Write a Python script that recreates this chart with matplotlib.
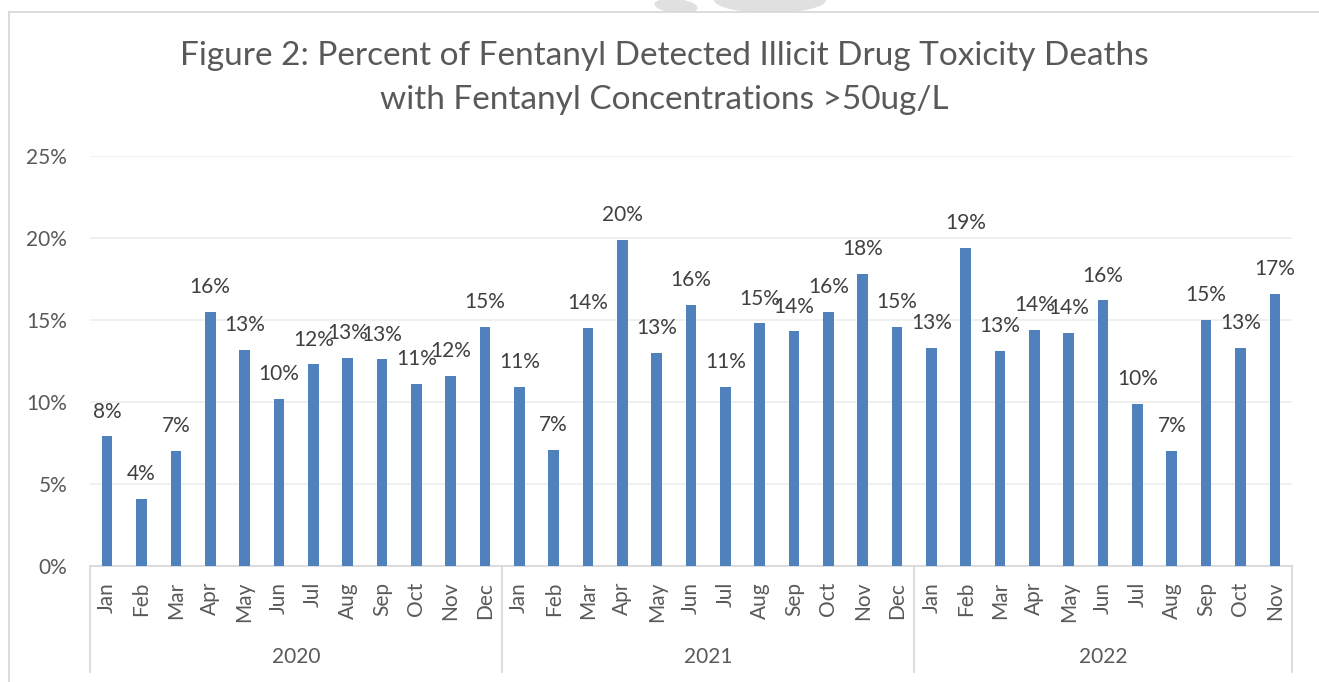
import matplotlib
matplotlib.use("Agg")
import matplotlib.pyplot as plt
from matplotlib.lines import Line2D
from matplotlib.patches import Ellipse, Rectangle
from matplotlib.ticker import FuncFormatter
import matplotlib.transforms as mtransforms

plt.rcParams["font.family"] = ["Lato", "DejaVu Sans"]

months_2020 = ["Jan", "Feb", "Mar", "Apr", "May", "Jun", "Jul", "Aug", "Sep", "Oct", "Nov", "Dec"]
months_2021 = ["Jan", "Feb", "Mar", "Apr", "May", "Jun", "Jul", "Aug", "Sep", "Oct", "Nov", "Dec"]
months_2022 = ["Jan", "Feb", "Mar", "Apr", "May", "Jun", "Jul", "Aug", "Sep", "Oct", "Nov"]
years = ["2020", "2021", "2022"]

pct_2020 = [7.9, 4.1, 7.0, 15.5, 13.2, 10.2, 12.3, 12.7, 12.6, 11.1, 11.6, 14.6]
pct_2021 = [10.9, 7.1, 14.5, 19.9, 13.0, 15.9, 10.9, 14.8, 14.3, 15.5, 17.8, 14.6]
pct_2022 = [13.3, 19.4, 13.1, 14.4, 14.2, 16.2, 9.9, 7.0, 15.0, 13.3, 16.6]

groups = [months_2020, months_2021, months_2022]
months = months_2020 + months_2021 + months_2022
values = [v / 100 for v in pct_2020 + pct_2021 + pct_2022]

W, H = 1319, 682
BAR = "#4F81BD"
TXT = "#595959"
LBL = "#404040"
LINE = "#D9D9D9"


def fy(py):
    return 1 - py / H


fig = plt.figure(figsize=(W / 100, H / 100), dpi=100)

# faint watermark shapes above the chart border
clip_box = Rectangle((0, fy(11.5)), 1, 1, transform=fig.transFigure, visible=False)
fig.add_artist(clip_box)
for cx, cy, ew, eh, ang in [(676, 6, 44, 14, -15), (770, 0, 112, 26, 0)]:
    e = Ellipse((cx / W, fy(cy)), ew / W, eh / H, angle=ang, transform=fig.transFigure,
                facecolor="#E0E0E0", edgecolor="none")
    fig.add_artist(e)
    e.set_clip_path(clip_box)

# chart border (top and left visible)
fig.add_artist(Line2D([9 / W, 1], [fy(11.5), fy(11.5)], color=LINE, lw=1.3, transform=fig.transFigure))
fig.add_artist(Line2D([9 / W, 9 / W], [0, fy(11.5)], color=LINE, lw=1.3, transform=fig.transFigure))

fig.text(664 / W, fy(56), "Figure 2: Percent of Fentanyl Detected Illicit Drug Toxicity Deaths",
         ha="center", va="center", fontsize=24, color=TXT)
fig.text(664 / W, fy(100), "with Fentanyl Concentrations >50ug/L",
         ha="center", va="center", fontsize=24, color=TXT)

ax = fig.add_axes([90 / W, fy(566), (1292 - 90) / W, (566 - 156) / H])
x = list(range(len(values)))
ax.bar(x, values, width=0.31, color=BAR, zorder=3)
ax.set_xlim(-0.5, len(values) - 0.5)
ax.set_ylim(0, 0.25)
ax.set_yticks([0, 0.05, 0.10, 0.15, 0.20, 0.25])
ax.yaxis.set_major_formatter(FuncFormatter(lambda v, _: f"{v * 100:.0f}%"))
ax.grid(axis="y", color="#EDEDED", lw=1.2, zorder=0)
for s in ["left", "right", "top"]:
    ax.spines[s].set_visible(False)
ax.spines["bottom"].set_color(LINE)
ax.spines["bottom"].set_linewidth(1.3)
ax.tick_params(axis="y", length=0, pad=16.5, labelsize=15, labelcolor=TXT)
ax.set_xticks(x)
ax.set_xticklabels(months, rotation=90, fontsize=15, color=TXT)
ax.tick_params(axis="x", length=0, pad=11.5)

for xi, v in zip(x, values):
    ax.annotate(f"{v * 100:.0f}%", (xi, v), xytext=(0, 13.5), textcoords="offset points",
                ha="center", va="baseline", fontsize=15, color=LBL)

# multi-level category axis: year groups with separators
trans = mtransforms.blended_transform_factory(ax.transData, ax.transAxes)
y_bot = (566 - 672) / (566 - 156)
start = 0
bounds = [-0.5]
for yr, g in zip(years, groups):
    end = start + len(g)
    bounds.append(end - 0.5)
    ax.text((start + end - 1) / 2, (566 - 657) / (566 - 156), yr, transform=trans,
            ha="center", va="center", fontsize=15, color=TXT)
    start = end
for b in bounds:
    ax.add_artist(Line2D([b, b], [0, y_bot], transform=trans, color=LINE, lw=1.3, clip_on=False))

fig.savefig("out.png", dpi=100, facecolor="white")
